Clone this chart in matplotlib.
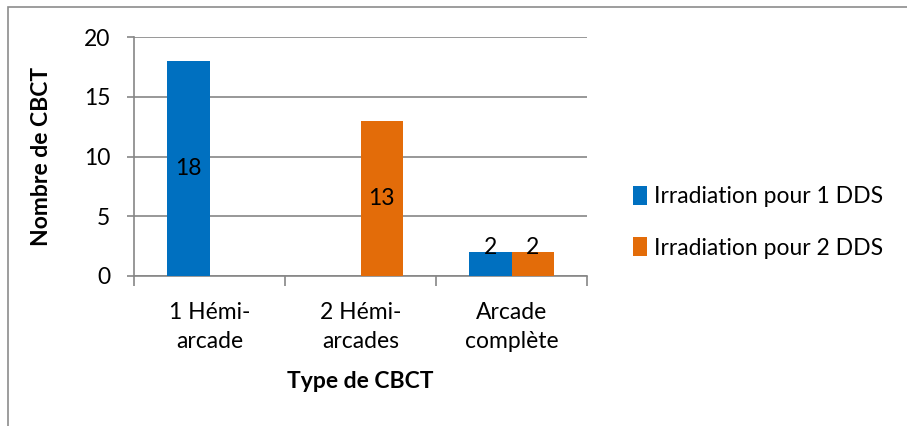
import matplotlib.pyplot as plt
from matplotlib.patches import Rectangle
import numpy as np

plt.rcParams['font.family'] = ['Lato', 'DejaVu Sans']

categories = ["1 Hémi-\narcade", "2 Hémi-\narcades", "Arcade\ncomplète"]
series_names = ["Irradiation pour 1 DDS", "Irradiation pour 2 DDS"]
dds1 = [18, 0, 2]
dds2 = [0, 13, 2]
yticks = [0, 5, 10, 15, 20]

BLUE = "#0070C0"
ORANGE = "#E36C09"
GRID = "#868686"
FS = 16.5

fig = plt.figure(figsize=(9.07, 4.26), dpi=100)
ax = fig.add_axes([134 / 907, 1 - 276 / 426, (587 - 134) / 907, (276 - 37) / 426])

# cadre extérieur (coupé à droite et en bas comme dans l'original)
fig.patches.append(Rectangle((8 / 907, -0.2), 1.2, 1.2 - 7 / 426, transform=fig.transFigure,
                             fill=False, edgecolor="#8c8c8c", linewidth=1.2))

x = np.arange(len(categories))
w = 0.28
for vals, off, col, name in [(dds1, -w / 2, BLUE, series_names[0]),
                             (dds2, w / 2, ORANGE, series_names[1])]:
    bars = ax.bar(x + off, vals, w, color=col, label=name, zorder=3)
    for b, v in zip(bars, vals):
        if v:
            # étiquette centrée ; remontée un peu pour les petites barres
            ly = v / 2 if v > 4 else v * 1.2
            ax.text(b.get_x() + b.get_width() / 2, ly, str(v),
                    ha="center", va="center", fontsize=FS, color="black", zorder=4)

ax.set_xlim(-0.5, 2.5)
ax.set_ylim(0, 20)
ax.set_yticks(yticks)
ax.set_xticks(x)
ax.set_xticklabels(categories, fontsize=FS, linespacing=1.45)
ax.set_xticks([-0.5, 0.5, 1.5, 2.5], minor=True)
ax.tick_params(axis="x", which="major", length=0, pad=19)
ax.tick_params(axis="x", which="minor", length=7, width=1.2, color=GRID, direction="out")
ax.tick_params(axis="y", length=5, width=1.2, color=GRID, pad=12, labelsize=FS)
ax.grid(axis="y", color=GRID, linewidth=1.2, zorder=0)
for s in ["top", "right"]:
    ax.spines[s].set_visible(False)
for s in ["left", "bottom"]:
    ax.spines[s].set_color(GRID)
    ax.spines[s].set_linewidth(1.2)

ax.set_xlabel("Type de CBCT", fontsize=FS, fontweight="bold", labelpad=14)
ax.set_ylabel("Nombre de CBCT", fontsize=FS, fontweight="bold", labelpad=23)

ax.legend(loc="center left", bbox_to_anchor=(1.055, 0.225), frameon=False, fontsize=FS,
          handlelength=0.65, handleheight=0.9, handletextpad=0.3, labelspacing=1.3)

fig.savefig("out.png", dpi=100)
